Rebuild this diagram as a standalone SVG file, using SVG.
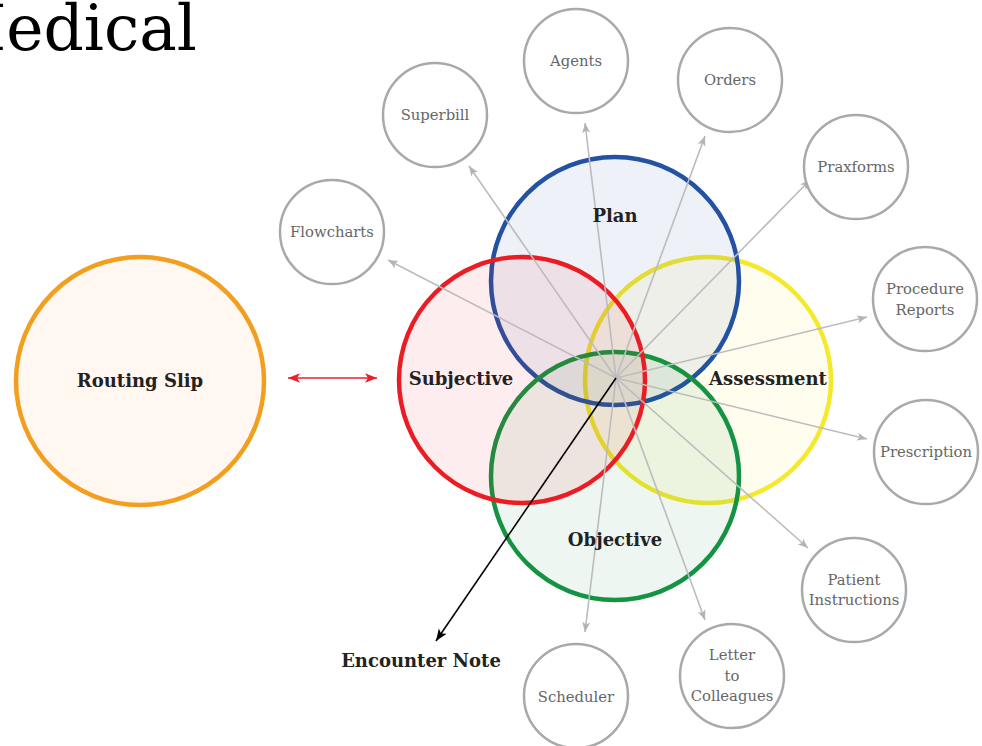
<svg xmlns="http://www.w3.org/2000/svg" width="982" height="746" viewBox="0 0 982 746">
<style>
  .big { stroke-width: 4.5; }
  .small circle { fill: #ffffff; stroke: #a9a9ab; stroke-width: 2.5; }
  .small text { font-family: "DejaVu Serif", "Liberation Serif", serif; font-size: 14.8px; fill: #666666; text-anchor: middle; }
  .bold { font-family: "DejaVu Serif", "Liberation Serif", serif; font-size: 18px; font-weight: bold; fill: #222222; text-anchor: middle; }
  .gray { stroke: #bcbcbe; stroke-width: 1.6; fill: none; marker-end: url(#ag); }
</style>
<defs>
  <marker id="ag" viewBox="0 0 10 10" refX="10" refY="5" markerWidth="10" markerHeight="10" markerUnits="userSpaceOnUse" orient="auto">
    <path d="M0,1 L10,5 L0,9 L2.5,5 Z" fill="#b4b4b6"/>
  </marker>
  <marker id="ab" viewBox="0 0 10 10" refX="10" refY="5" markerWidth="12" markerHeight="12" markerUnits="userSpaceOnUse" orient="auto">
    <path d="M0,1 L10,5 L0,9 L2.5,5 Z" fill="#000000"/>
  </marker>
  <marker id="ar" viewBox="0 0 10 10" refX="10" refY="5" markerWidth="12" markerHeight="12" markerUnits="userSpaceOnUse" orient="auto-start-reverse">
    <path d="M0,1 L10,5 L0,9 L2.5,5 Z" fill="#e8202a"/>
  </marker>
</defs>
<rect width="982" height="746" fill="#ffffff"/>

<text x="197" y="50" font-family="DejaVu Serif, Liberation Serif, serif" font-size="63" fill="#000000" text-anchor="end">Medical</text>

<g id="routing-slip">
  <circle cx="140" cy="381" r="124" fill="#fff7f0" stroke="#f29f1f" class="big"/>
  <text class="bold" x="140" y="387" font-size="19">Routing Slip</text>
</g>

<g id="soap">
  <g id="assessment">
    <circle cx="708" cy="380" r="123" fill="#f2e82a" fill-opacity="0.08" stroke="#f4e92c" class="big"/>
  </g>
  <g id="plan">
    <circle cx="615" cy="281" r="124" fill="#2451a4" fill-opacity="0.08" stroke="#2352a3" class="big"/>
  </g>
  <g id="objective">
    <circle cx="615" cy="476" r="124" fill="#159044" fill-opacity="0.08" stroke="#149343" class="big"/>
  </g>
  <g id="subjective">
    <circle cx="522" cy="380" r="123" fill="#ee1c25" fill-opacity="0.08" stroke="#ec1c24" class="big"/>
  </g>
</g>

<g id="connectors">
  <line class="gray" x1="616" y1="378" x2="585" y2="123"/>
  <line class="gray" x1="616" y1="378" x2="705" y2="136"/>
  <line class="gray" x1="616" y1="378" x2="469" y2="166"/>
  <line class="gray" x1="616" y1="378" x2="810" y2="180"/>
  <line class="gray" x1="616" y1="378" x2="388" y2="260"/>
  <line class="gray" x1="616" y1="378" x2="867" y2="317"/>
  <line class="gray" x1="616" y1="378" x2="867" y2="439"/>
  <line class="gray" x1="616" y1="378" x2="808" y2="548"/>
  <line class="gray" x1="616" y1="378" x2="705" y2="620"/>
  <line class="gray" x1="616" y1="378" x2="585" y2="632"/>
  <line x1="616" y1="378" x2="436" y2="641" stroke="#000000" stroke-width="1.6" marker-end="url(#ab)"/>
  <line x1="288" y1="378" x2="377" y2="378" stroke="#e8202a" stroke-width="1.6" marker-start="url(#ar)" marker-end="url(#ar)"/>
</g>

<g id="labels">
  <text class="bold" x="615" y="222">Plan</text>
  <text class="bold" x="461" y="385">Subjective</text>
  <text class="bold" x="768" y="385">Assessment</text>
  <text class="bold" x="615" y="546">Objective</text>
  <text class="bold" x="421" y="667">Encounter Note</text>
</g>

<g class="small">
  <g id="agents"><circle cx="576" cy="61" r="52"/><text x="576" y="66">Agents</text></g>
  <g id="orders"><circle cx="730" cy="80" r="52"/><text x="730" y="85">Orders</text></g>
  <g id="superbill"><circle cx="435" cy="115" r="52"/><text x="435" y="120">Superbill</text></g>
  <g id="praxforms"><circle cx="856" cy="167" r="52"/><text x="856" y="172">Praxforms</text></g>
  <g id="flowcharts"><circle cx="332" cy="232" r="52"/><text x="332" y="237">Flowcharts</text></g>
  <g id="procedure-reports"><circle cx="925" cy="299" r="52"/><text x="925" y="294">Procedure</text><text x="925" y="315">Reports</text></g>
  <g id="prescription"><circle cx="926" cy="452" r="52"/><text x="926" y="457">Prescription</text></g>
  <g id="patient-instructions"><circle cx="854" cy="590" r="52"/><text x="854" y="585">Patient</text><text x="854" y="605">Instructions</text></g>
  <g id="letter"><circle cx="732" cy="676" r="52"/><text x="732" y="660">Letter</text><text x="732" y="681">to</text><text x="732" y="701">Colleagues</text></g>
  <g id="scheduler"><circle cx="576" cy="696" r="52"/><text x="576" y="702">Scheduler</text></g>
</g>
</svg>
